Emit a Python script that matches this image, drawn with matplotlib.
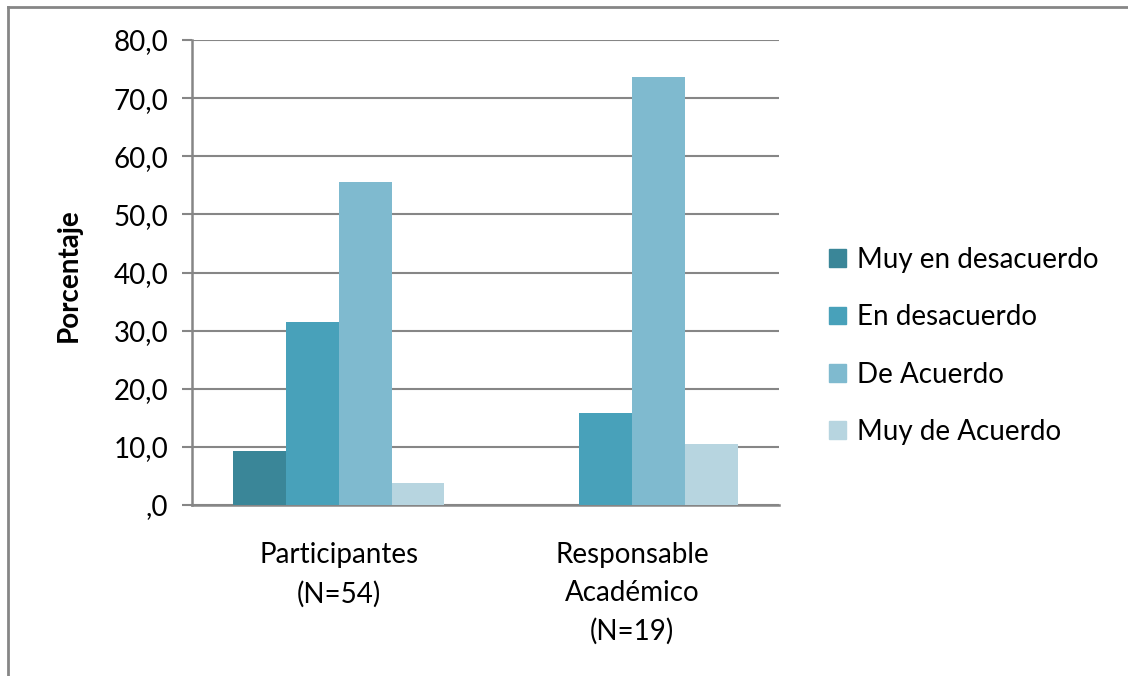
import matplotlib
matplotlib.use("Agg")
import matplotlib.pyplot as plt
import numpy as np
from matplotlib.patches import Rectangle
from matplotlib.lines import Line2D

categories = ["Participantes\n(N=54)", "Responsable\nAcadémico\n(N=19)"]
series_names = ["Muy en desacuerdo", "En desacuerdo", "De Acuerdo", "Muy de Acuerdo"]
muy_en_desacuerdo = [9.3, 0.0]
en_desacuerdo = [31.5, 15.8]
de_acuerdo = [55.6, 73.7]
muy_de_acuerdo = [3.7, 10.5]
yticks = [0, 10, 20, 30, 40, 50, 60, 70, 80]
ytick_labels = [",0", "10,0", "20,0", "30,0", "40,0", "50,0", "60,0", "70,0", "80,0"]
colors = ["#3A8698", "#48A1BA", "#7FBACF", "#B7D5E0"]

plt.rcParams['font.family'] = ['Lato', 'DejaVu Sans']
FS = 20

fig = plt.figure(figsize=(11.28, 6.76), dpi=100)
ax = fig.add_axes([192/1128, 1-505/676, (779-192)/1128, (505-40)/676])

x = np.arange(len(categories))
bw = 0.18
data = [muy_en_desacuerdo, en_desacuerdo, de_acuerdo, muy_de_acuerdo]
for i, (vals, c, name) in enumerate(zip(data, colors, series_names)):
    ax.bar(x + (i - 1.5) * bw, vals, bw, color=c, label=name, zorder=3, linewidth=0)

ax.set_xlim(-0.5, 1.5)
ax.set_ylim(0, 80)
ax.set_yticks(yticks)
ax.set_yticklabels(ytick_labels, fontsize=FS)
ax.set_xticks(x)
ax.set_xticklabels(categories, fontsize=FS, linespacing=1.55)
ax.tick_params(axis='x', length=0, pad=27)
ax.tick_params(axis='y', length=7, width=1.5, color="#868686", pad=10)
ax.grid(axis='y', color="#868686", linewidth=1.5, zorder=0)
for s in ['top', 'right']:
    ax.spines[s].set_visible(False)
for s in ['left', 'bottom']:
    ax.spines[s].set_color("#868686")
    ax.spines[s].set_linewidth(1.8)

fig.text(69/1128, 1-275/676, "Porcentaje", rotation=90, fontsize=FS, fontweight='bold',
         ha='center', va='center')

handles = [Rectangle((0, 0), 1, 1, color=c) for c in colors]
fig.legend(handles, series_names, loc='center left', bbox_to_anchor=(829/1128, 1-346/676),
           frameon=False, fontsize=FS, handlelength=0.6, handleheight=0.6,
           handletextpad=0.4, labelspacing=1.13, borderpad=0, borderaxespad=0)

# outer chart border (top and left visible)
fig.add_artist(Line2D([8/1128, 1.01], [1-7/676, 1-7/676], color="#868686", linewidth=2, transform=fig.transFigure))
fig.add_artist(Line2D([8/1128, 8/1128], [-0.01, 1-7/676], color="#868686", linewidth=2, transform=fig.transFigure))

fig.savefig("out.png", dpi=100, facecolor="white")
